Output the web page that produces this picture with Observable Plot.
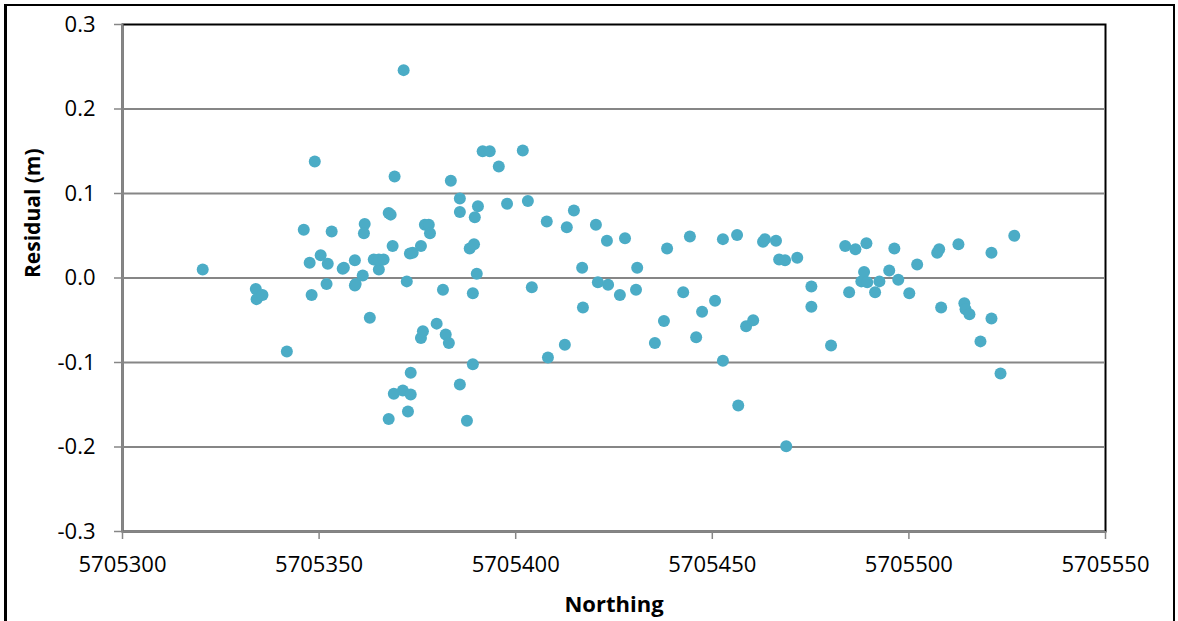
<!DOCTYPE html>
<html>
<head>
<meta charset="utf-8">
<script src="https://cdn.jsdelivr.net/npm/d3@7"></script>
<script src="https://cdn.jsdelivr.net/npm/@observablehq/plot@0.6"></script>
<style>
  html, body { margin: 0; padding: 0; background: #fff; overflow: hidden; }
  #wrap { position: relative; width: 1178px; height: 621px; }
  #wrap svg { position: absolute; left: 0; top: 0; }
  #border { position: absolute; left: 4px; top: 4px; width: 1171px; height: 640px;
            box-sizing: border-box; border: 2px solid #000; border-left-width: 3px; pointer-events: none; }
</style>
</head>
<body>
<div id="wrap"><div id="border"></div></div>
<script>
// Northing (m) of each observation
const northing = [
  5705320.4, 5705333.9, 5705334.1, 5705335.6, 5705341.8, 5705346.1, 5705347.6, 5705348.1, 5705348.9, 5705350.4,
  5705352.2, 5705351.9, 5705353.2, 5705356.3, 5705356.0, 5705359.1, 5705359.1, 5705359.3, 5705361.1, 5705361.6,
  5705361.4, 5705362.9, 5705363.9, 5705365.2, 5705365.2, 5705366.4, 5705367.7, 5705368.2, 5705367.7, 5705368.7,
  5705369.2, 5705369.0, 5705371.3, 5705371.5, 5705372.3, 5705372.6, 5705373.3, 5705373.3, 5705373.1, 5705373.8,
  5705375.9, 5705375.9, 5705376.4, 5705376.9, 5705377.9, 5705378.2, 5705379.9, 5705381.5, 5705382.2, 5705383.0,
  5705383.5, 5705385.8, 5705385.8, 5705385.8, 5705387.6, 5705388.3, 5705389.4, 5705389.1, 5705389.1, 5705389.6,
  5705390.4, 5705390.1, 5705391.6, 5705393.4, 5705395.7, 5705397.8, 5705401.8, 5705403.1, 5705404.1, 5705407.9,
  5705408.2, 5705413.0, 5705412.5, 5705414.8, 5705416.9, 5705417.1, 5705420.4, 5705420.9, 5705423.2, 5705423.5,
  5705426.5, 5705427.8, 5705430.9, 5705430.6, 5705435.4, 5705437.7, 5705438.5, 5705442.6, 5705444.3, 5705445.9,
  5705447.4, 5705450.7, 5705452.7, 5705452.7, 5705456.3, 5705456.6, 5705458.6, 5705460.4, 5705462.9, 5705463.4,
  5705466.2, 5705467.0, 5705468.5, 5705468.8, 5705471.6, 5705475.2, 5705475.2, 5705480.2, 5705483.8, 5705484.8,
  5705486.4, 5705487.9, 5705488.6, 5705489.2, 5705489.4, 5705491.4, 5705492.5, 5705495.0, 5705496.3, 5705497.3,
  5705500.1, 5705502.1, 5705507.2, 5705507.7, 5705508.2, 5705512.6, 5705514.1, 5705514.4, 5705515.4, 5705518.2,
  5705521.0, 5705521.0, 5705523.3, 5705526.8
];
// Residual (m) of each observation
const residual = [
  0.010, -0.013, -0.025, -0.020, -0.087, 0.057, 0.018, -0.020, 0.138, 0.027,
  0.017, -0.007, 0.055, 0.012, 0.011, 0.021, -0.009, -0.007, 0.003, 0.064,
  0.053, -0.047, 0.022, 0.010, 0.022, 0.022, 0.077, 0.075, -0.167, 0.038,
  0.120, -0.137, -0.133, 0.246, -0.004, -0.158, -0.112, -0.138, 0.029, 0.030,
  0.038, -0.071, -0.063, 0.063, 0.063, 0.053, -0.054, -0.014, -0.067, -0.077,
  0.115, 0.094, 0.078, -0.126, -0.169, 0.035, 0.040, -0.018, -0.102, 0.072,
  0.085, 0.005, 0.150, 0.150, 0.132, 0.088, 0.151, 0.091, -0.011, 0.067,
  -0.094, 0.060, -0.079, 0.080, 0.012, -0.035, 0.063, -0.005, 0.044, -0.008,
  -0.020, 0.047, 0.012, -0.014, -0.077, -0.051, 0.035, -0.017, 0.049, -0.070,
  -0.040, -0.027, 0.046, -0.098, 0.051, -0.151, -0.057, -0.050, 0.043, 0.046,
  0.044, 0.022, 0.021, -0.199, 0.024, -0.010, -0.034, -0.080, 0.038, -0.017,
  0.034, -0.004, 0.007, 0.041, -0.005, -0.017, -0.004, 0.009, 0.035, -0.002,
  -0.018, 0.016, 0.030, 0.034, -0.035, 0.040, -0.030, -0.037, -0.043, -0.075,
  -0.048, 0.030, -0.113, 0.050
];
const xTicks = [5705300, 5705350, 5705400, 5705450, 5705500, 5705550];
const yTicks = [-0.3, -0.2, -0.1, 0.0, 0.1, 0.2, 0.3];
const xTitle = "Northing";
const yTitle = "Residual (m)";

const data = northing.map((n, i) => ({n, r: residual[i]}));
const grey = "#868686";
const font = "'Open Sans', 'Liberation Sans', sans-serif";

const chart = Plot.plot({
  width: 1178,
  height: 621,
  marginLeft: 122,
  marginRight: 73,
  marginTop: 24,
  marginBottom: 90,
  style: {fontFamily: font, background: "transparent", overflow: "visible"},
  x: {domain: [5705300, 5705550]},
  y: {domain: [-0.3, 0.3]},
  marks: [
    Plot.frame({stroke: "#000", strokeWidth: 2}),
    Plot.ruleY(yTicks.filter(v => v > -0.3 && v < 0.3), {stroke: grey, strokeWidth: 2}),
    Plot.ruleX([5705300], {stroke: grey, strokeWidth: 2}),
    Plot.ruleY([-0.3], {stroke: grey, strokeWidth: 2}),
    Plot.axisY({ticks: yTicks, tickFormat: d => d.toFixed(1), tickSize: 8, tickPadding: 19,
                stroke: grey, strokeWidth: 1.5, fill: "#000", fontSize: 22, label: null}),
    Plot.axisX({ticks: xTicks, tickFormat: d => String(d), tickSize: 8, tickPadding: 17,
                stroke: grey, strokeWidth: 1.5, fill: "#000", fontSize: 22, label: null}),
    Plot.dot(data, {x: "n", y: "r", r: 6, fill: "#4BACC6", stroke: "none"}),
    Plot.text([xTitle], {frameAnchor: "bottom", dy: 80, text: d => d, fontSize: 22, fontWeight: "bold", fill: "#000"}),
    Plot.text([yTitle], {frameAnchor: "left", dx: -89, rotate: -90, text: d => d, fontSize: 21, fontWeight: "bold", fill: "#000"})
  ]
});
document.getElementById("wrap").insertBefore(chart, document.getElementById("border"));
</script>
</body>
</html>
